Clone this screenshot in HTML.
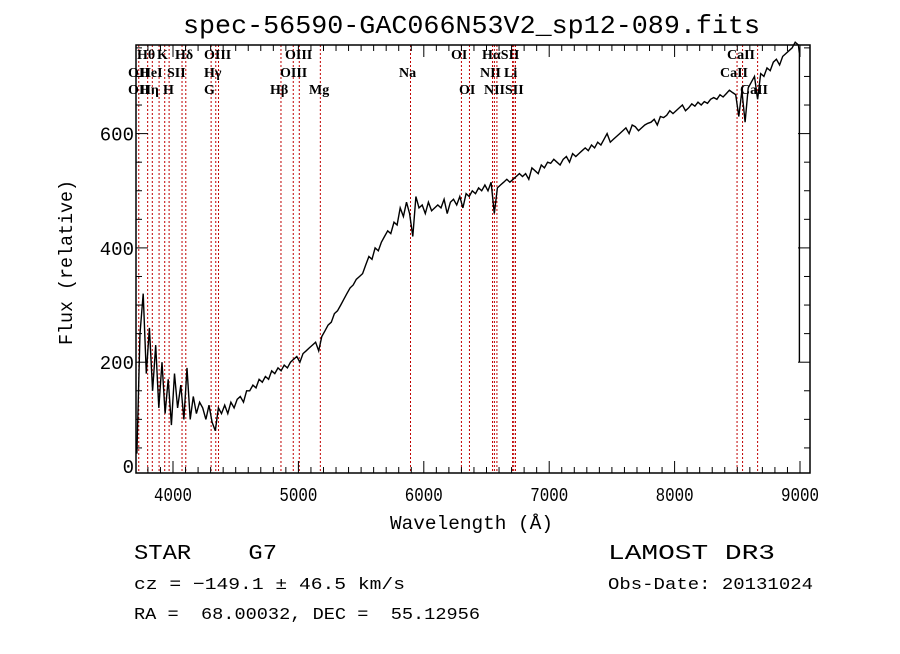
<!DOCTYPE html>
<html><head><meta charset="utf-8"><style>
body{margin:0;background:#fff;}
svg text{font-family:"Liberation Serif",serif;}
.mono{font-family:"Liberation Mono","DejaVu Sans Mono",monospace;}
</style></head><body>
<svg id="chart" width="900" height="649" xmlns="http://www.w3.org/2000/svg">
<rect width="900" height="649" fill="#fff"/>
<text class="mono" x="183" y="33" font-size="26" textLength="577" lengthAdjust="spacingAndGlyphs">spec-56590-GAC066N53V2_sp12-089.fits</text>
<g id="lines"></g>
<g id="spec"></g>
<g id="axes"></g>
<text class="mono" x="390" y="529" font-size="19" textLength="163" lengthAdjust="spacingAndGlyphs">Wavelength (Å)</text>
<text class="mono" transform="translate(72,345) rotate(-90)" font-size="19" textLength="165" lengthAdjust="spacingAndGlyphs">Flux (relative)</text>
<text class="mono" x="134" y="559" font-size="21" textLength="143" lengthAdjust="spacingAndGlyphs" xml:space="preserve">STAR    G7</text>
<text class="mono" x="134" y="589" font-size="17" textLength="271" lengthAdjust="spacingAndGlyphs" xml:space="preserve">cz = −149.1 ± 46.5 km/s</text>
<text class="mono" x="134" y="619" font-size="17" textLength="346" lengthAdjust="spacingAndGlyphs" xml:space="preserve">RA =  68.00032, DEC =  55.12956</text>
<text class="mono" x="608" y="559" font-size="21" textLength="167" lengthAdjust="spacingAndGlyphs">LAMOST DR3</text>
<text class="mono" x="608" y="589" font-size="17" textLength="205" lengthAdjust="spacingAndGlyphs">Obs-Date: 20131024</text>
</svg>
<script>
const waveStart = 3700;
const waveStep = 25;
const flux = [
40,250,320,180, 260,150,230,120, 200,110,170,90, 180,120,160,100,
190,100,140,110, 130,120,100,125, 95,80,120,110, 125,110,130,120,
135,140,130,150, 150,160,155,170, 165,175,170,185, 180,190,185,195,
190,200,205,210, 200,215,220,225, 230,235,220,245, 255,265,270,285,
290,300,310,320, 330,335,345,350, 355,370,385,380, 400,395,410,420,
430,425,445,440, 470,455,480,460, 420,490,470,475, 460,480,465,470,
475,470,485,460, 480,485,475,490, 470,495,490,500, 495,505,500,510,
500,515,460,505, 510,515,520,515, 520,525,530,525, 530,520,540,535,
530,545,540,550, 548,555,550,545, 555,560,550,565, 560,565,570,575,
570,580,575,585, 580,590,600,585, 590,595,600,605, 610,600,615,612,
605,610,615,618, 620,625,615,630, 628,632,640,635, 640,645,650,640,
645,652,648,655, 650,656,653,660, 663,660,668,664, 670,676,672,668,
630,675,620,680, 690,700,660,705, 700,715,710,725, 730,720,735,740,
745,750,760,755, 740,200
];
const lineWaves = [3727,3798,3835,3889,3934,3969,4072,4102,4304,4341,4363,4861,4959,5007,5175,5894,6300,6364,6548,6563,6583,6708,6717,6731,8498,8542,8662];
const lineLabels = [
 ["Hθ",137,59],["K",157,59],["Hδ",175,59],["OIII",204,59],["OIII",285,59],["OI",451,59],["HαSII",482,59],["CaII",727,59],
 ["OII",128,77],["HeI",140,77],["SII",167,77],["Hγ",204,77],["OIII",280,77],["Na",399,77],["NII",480,77],["Li",504,77],["CaII",720,77],
 ["OII",128,94],["Hη",140,94],["H",163,94],["G",204,94],["Hβ",270,94],["Mg",309,94],["OI",459,94],["NIISII",484,94],["CaII",740,94]
];
const xTicks = [4000,5000,6000,7000,8000,9000];
const yTicks = [0,200,400,600];

const L=136,R=810,T=45,B=473;
const xs = w => 173 + (w-4000)*0.1254;
const ys = v => 476.5 - v*0.5715;
const NS="http://www.w3.org/2000/svg";
function mk(tag,attrs,parent){const e=document.createElementNS(NS,tag);for(const k in attrs)e.setAttribute(k,attrs[k]);parent.appendChild(e);return e;}

const lg=document.getElementById('lines');
lineWaves.forEach(w=>{
  const l=mk('line',{x1:xs(w),x2:xs(w),y1:T,y2:B,stroke:'#c00000','stroke-width':1,'stroke-dasharray':'2,2'},lg);
  
  
});
lineLabels.forEach(d=>{
  const t=mk('text',{x:d[1],y:d[2],'font-size':14,'font-weight':'bold'},lg);t.textContent=d[0];
  
  
});

const sg=document.getElementById('spec');
let pts=[];
flux.forEach((v,i)=>{
  const w=Math.min(Math.max(waveStart+i*waveStep+12,3705),8995);
  pts.push(xs(w).toFixed(1)+','+ys(v).toFixed(1));
});
const pl=mk('polyline',{points:pts.join(' '),fill:'none',stroke:'#000','stroke-width':1.4},sg);



const ag=document.getElementById('axes');
const frame=mk('rect',{x:L,y:T,width:R-L,height:B-T,fill:'none',stroke:'#000','stroke-width':1.5},ag);


for(let w=3800;w<=9050;w+=100){
  const major=w%1000===0, len=major?12:6;
  mk('line',{x1:xs(w),x2:xs(w),y1:B,y2:B-len,stroke:'#000'},ag);
  mk('line',{x1:xs(w),x2:xs(w),y1:T,y2:T+len,stroke:'#000'},ag);
}
xTicks.forEach(w=>{
  const t=mk('text',{x:xs(w)-19,y:B+28,'font-size':19,class:'mono',textLength:38,lengthAdjust:'spacingAndGlyphs'},ag);t.textContent=w;
  
  
});
for(let v=50;v<=750;v+=50){
  const major=v%200===0, len=major?12:6;
  mk('line',{x1:L,x2:L+len,y1:ys(v),y2:ys(v),stroke:'#000'},ag);
  mk('line',{x1:R,x2:R-len,y1:ys(v),y2:ys(v),stroke:'#000'},ag);
}
yTicks.forEach(v=>{
  const t=mk('text',{x:L-2,y:Math.min(ys(v)+7,B),'font-size':19,'text-anchor':'end',class:'mono'},ag);t.textContent=v;
  
  
});
</script>
</body></html>
